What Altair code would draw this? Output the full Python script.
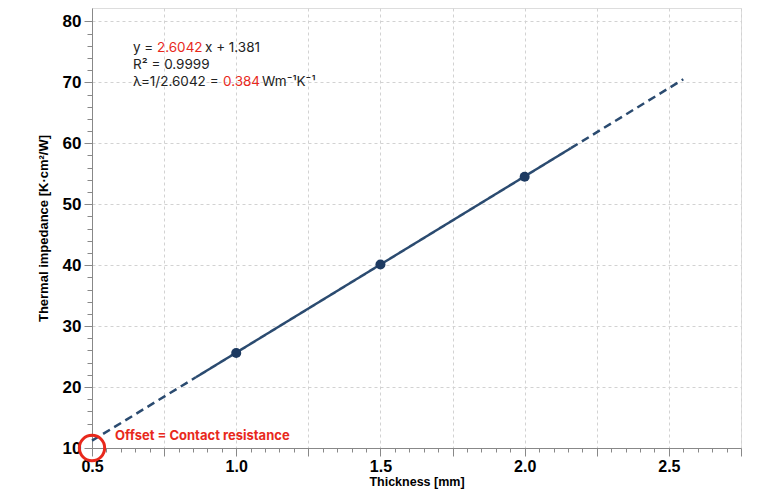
import altair as alt
import pandas as pd
import numpy as np

# measured points
thickness = [1.0, 1.5, 2.0]
impedance = [25.6, 40.1, 54.5]

# fitted line, split into dashed / solid parts
fit_x = [0.5, 0.86, 0.86, 2.16, 2.16, 2.55]
fit_y = [11.2, 21.6, 21.6, 59.2, 59.2, 70.5]
fit_seg = ["lo", "lo", "mid", "mid", "hi", "hi"]
fit_style = ["dashed", "dashed", "solid", "solid", "dashed", "dashed"]

# axis ticks
x_ticks = [round(v, 2) for v in np.arange(0.5, 2.7501, 0.05)]
y_ticks = list(range(10, 81, 2))

# annotation anchors (data coordinates)
ann_x = 0.642
ann_y = [75.6, 72.8, 70.0]
offset_x, offset_y = 0.58, 11.9
circle_x, circle_y = 0.5, 10.0

RED = "#e8291c"
NAVY = "#2b4b70"
DARK = "#1d3a61"
TXT = "#222222"
FONT = "Inter"
GRID = "#d2d2d2"

pts = pd.DataFrame({"x": thickness, "y": impedance})
fit = pd.DataFrame({"x": fit_x, "y": fit_y, "seg": fit_seg, "style": fit_style})

x_scale = alt.Scale(domain=[0.5, 2.75], nice=False, zero=False)
y_scale = alt.Scale(domain=[10, 82.2], nice=False, zero=False)

x_major = "abs(datum.value*4 - round(datum.value*4)) < 0.001"
x_label = "abs(datum.value*2 - round(datum.value*2)) < 0.001"
y_major = "abs(datum.value/10 - round(datum.value/10)) < 0.001"

x_axis = alt.Axis(
    values=x_ticks, format=".1f", title="Thickness [mm]",
    labelExpr=f"{x_label} ? datum.label : ''",
    labelOverlap=False, labelFlush=False,
    tickSize={"condition": {"test": x_major, "value": 8}, "value": 4},
    gridColor={"condition": {"test": x_major, "value": GRID}, "value": "transparent"},
    gridDash=[3, 3],
    labelFontSize=16, labelFontWeight="bold", labelPadding=2,
    titleFontSize=12.5, titleFontWeight="bold", titlePadding=1,
)
y_axis = alt.Axis(
    values=y_ticks, format="d", title="Thermal impedance [K·cm²/W]",
    labelExpr=f"{y_major} ? datum.label : ''",
    labelOverlap=False, labelFlush=False,
    tickSize={"condition": {"test": y_major, "value": 8}, "value": 5},
    gridColor={"condition": {"test": y_major, "value": GRID}, "value": "transparent"},
    gridDash=[3, 3],
    labelFontSize=17, labelFontWeight="bold", labelPadding=3,
    titleFontSize=13, titleFontWeight="bold", titlePadding=12,
)


def X():
    return alt.X("x:Q", scale=x_scale, axis=x_axis)


def Y():
    return alt.Y("y:Q", scale=y_scale, axis=y_axis)


line = alt.Chart(fit).mark_line(strokeWidth=2.5, color=NAVY).encode(
    x=X(), y=Y(),
    detail="seg:N",
    strokeDash=alt.StrokeDash("style:N", scale=alt.Scale(domain=["solid", "dashed"], range=[[1, 0], [8, 5]]), legend=None),
)

points = alt.Chart(pts).mark_circle(size=100, color=DARK, opacity=1).encode(x=X(), y=Y())

circle = alt.Chart(pd.DataFrame({"x": [circle_x], "y": [circle_y]})).mark_point(
    shape="circle", size=640, filled=False, strokeWidth=3, color=RED, opacity=1
).encode(x=X(), y=Y())

offset_txt = alt.Chart(pd.DataFrame({"x": [offset_x], "y": [offset_y], "t": ["Offset = Contact resistance"]})).mark_text(
    align="left", baseline="middle", font=FONT, fontSize=13, fontWeight="bold", color=RED
).encode(x=X(), y=Y(), text="t:N")


def frag(text, line_idx, dx, color):
    df = pd.DataFrame({"x": [ann_x], "y": [ann_y[line_idx]], "t": [text]})
    return alt.Chart(df).mark_text(
        align="left", baseline="middle", font=FONT, fontSize=13.5, color=color, dx=dx
    ).encode(x=X(), y=Y(), text="t:N")


ann = [
    frag("y =", 0, 0, TXT),
    frag("2.6042", 0, 24, RED),
    frag("x + 1.381", 0, 72, TXT),
    frag("R² = 0.9999", 1, 0, TXT),
    frag("λ=1/2.6042 =", 2, 0, TXT),
    frag("0.384", 2, 90, RED),
    frag("Wm⁻¹K⁻¹", 2, 129, TXT),
]

chart = alt.layer(line, points, circle, offset_txt, *ann).properties(
    width=649, height=440,
    autosize=alt.AutoSizeParams(type="none"),
    padding={"left": 84, "top": 0, "right": 19, "bottom": 46},
).configure_view(
    stroke="#222222", strokeWidth=1.5
).configure_axis(
    domainColor="#111111", domainWidth=1.5, tickColor="#111111", tickWidth=1.5,
    gridWidth=1,
    labelColor="#111111", titleColor="#111111", labelFont=FONT, titleFont=FONT,
).configure(background="white")

chart.save("out.html", embed_options={"renderer": "svg", "actions": False})
